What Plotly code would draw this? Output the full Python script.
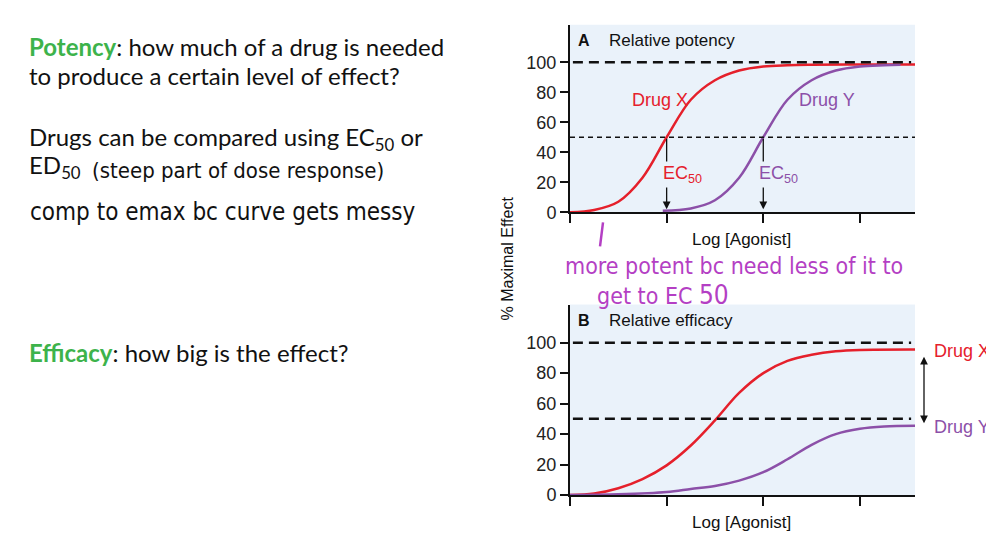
import plotly.graph_objects as go

W, H = 994, 549
OFFX = 8
SY, OFFY = 0.979, 8.3  # calibration of page -> screenshot
def px(x): return (x - OFFX) / W
def py(y): return 1 - ((y - OFFY) / SY) / H

# ---- data ----
log_dose_x_a = [0, 0.25, 0.5, 0.75, 1.0, 1.25, 1.5, 1.75, 2.0, 2.25, 2.5, 3.0, 3.57]
effect_x_a   = [0, 1.5, 7, 23, 50, 75, 88, 94.5, 97.2, 98, 98.3, 98.5, 98.5]
log_dose_y_a = [0.96, 1.25, 1.5, 1.75, 2.0, 2.25, 2.5, 2.75, 3.0, 3.25, 3.42]
effect_y_a   = [1, 2.5, 8, 23, 50, 75, 88, 94.5, 97.2, 98, 98.3]

log_dose_x_b = [0, 0.25, 0.5, 0.75, 1.0, 1.25, 1.5, 1.75, 2.0, 2.25, 2.5, 2.75, 3.0, 3.57]
effect_x_b   = [0, 1, 4.5, 10.5, 19.5, 32.5, 49, 67, 80, 88, 92, 94.3, 95.2, 95.5]
log_dose_y_b = [0, 0.5, 1.0, 1.25, 1.5, 1.75, 2.0, 2.25, 2.5, 2.75, 3.0, 3.25, 3.57]
effect_y_b   = [0, 0.5, 2, 4, 6, 9.5, 15, 23.5, 33, 40, 43.5, 45, 45.5]

ec50_x = 1.0
ec50_y = 2.0
y_ticks = [0, 20, 40, 60, 80, 100]
x_ticks = [0, 1, 2, 3]

RED = "#E5202B"
PURPLE = "#8C50A8"
MAG = "#B43FC4"
GREEN = "#3DB34B"
BG = "#EAF2FA"
AX_FONT = "Liberation Sans, Arial, sans-serif"
TXT_FONT = "Lato, Open Sans, sans-serif"

fig = go.Figure()
fig.add_trace(go.Scatter(x=log_dose_x_a, y=effect_x_a, mode="lines", line=dict(color=RED, width=2.5, shape="spline"), xaxis="x", yaxis="y", hoverinfo="skip"))
fig.add_trace(go.Scatter(x=log_dose_y_a, y=effect_y_a, mode="lines", line=dict(color=PURPLE, width=2.5, shape="spline"), xaxis="x", yaxis="y", hoverinfo="skip"))
fig.add_trace(go.Scatter(x=log_dose_x_b, y=effect_x_b, mode="lines", line=dict(color=RED, width=2.5, shape="spline"), xaxis="x2", yaxis="y2", hoverinfo="skip"))
fig.add_trace(go.Scatter(x=log_dose_y_b, y=effect_y_b, mode="lines", line=dict(color=PURPLE, width=2.5, shape="spline"), xaxis="x2", yaxis="y2", hoverinfo="skip"))

xcommon = dict(range=[0, 3.57], tickvals=x_ticks, showticklabels=False, ticks="outside",
               ticklen=9, tickwidth=1.5, tickcolor="#111", showline=True, linewidth=2,
               linecolor="#111", showgrid=False, zeroline=False, fixedrange=True)
ycommon = dict(range=[0, 125], tickvals=y_ticks, ticks="outside", ticklen=8, tickwidth=1.5,
               tickcolor="#111", showline=True, linewidth=2, linecolor="#111", showgrid=False,
               zeroline=False, tickfont=dict(family=AX_FONT, size=18, color="#222"), fixedrange=True)

fig.update_layout(
    width=W, height=H, margin=dict(l=0, r=0, t=0, b=0),
    paper_bgcolor="white", plot_bgcolor=BG, showlegend=False,
    xaxis=dict(domain=[px(570), px(915)], anchor="y", **xcommon),
    yaxis=dict(domain=[py(212), py(25)], anchor="x", **ycommon),
    xaxis2=dict(domain=[px(570), px(915)], anchor="y2", **xcommon),
    yaxis2=dict(domain=[py(494), py(304)], anchor="x2", **ycommon),
)

shapes = []
for xr, yr, lvl, w, d, x0, x1 in [("x", "y", 100, 2.5, "10px,6px", 0.03, 3.53),
                                  ("x", "y", 50, 1.3, "5px,4px", 0.0, 3.57),
                                  ("x2", "y2", 100, 2.5, "10px,6px", 0.03, 3.53),
                                  ("x2", "y2", 50, 2.5, "10px,6px", 0.03, 3.53)]:
    shapes.append(dict(type="line", xref=xr, yref=yr, x0=x0, x1=x1, y0=lvl, y1=lvl,
                       line=dict(color="#111", width=w, dash=d)))
# handwritten tick stroke
shapes.append(dict(type="line", xref="paper", yref="paper", x0=px(603), y0=py(222), x1=px(600), y1=py(246),
                   line=dict(color=MAG, width=2.5)))
fig.update_layout(shapes=shapes)

ann = []
def T(x, y, text, size=17, color="#111", family=AX_FONT, xanchor="left", yanchor="middle", **kw):
    ann.append(dict(x=px(x), y=py(y), xref="paper", yref="paper", text=text, showarrow=False,
                    xanchor=xanchor, yanchor=yanchor, font=dict(size=size, color=color, family=family), **kw))

# panel titles
T(576, 41, "<b>A</b>", size=16)
T(607, 41, "Relative potency", size=17)
T(576, 320, "<b>B</b>", size=16)
T(607, 320, "Relative efficacy", size=17)
# axis titles
T(741, 239, "Log [Agonist]", xanchor="center")
T(741, 521, "Log [Agonist]", xanchor="center")
ann.append(dict(x=px(507), y=py(258), xref="paper", yref="paper", text="% Maximal Effect", showarrow=False,
                textangle=-90, xanchor="center", yanchor="middle", font=dict(size=16, color="#111", family=AX_FONT)))
# panel A labels
T(660, 100, "Drug X", color=RED, size=18, xanchor="center")
T(827, 100, "Drug Y", color=PURPLE, size=18, xanchor="center")
# EC50 arrows
for xv in [ec50_x, ec50_y]:
    ann.append(dict(x=xv, y=2, xref="x", yref="y", ax=xv, ay=50, axref="x", ayref="y", text="",
                    showarrow=True, arrowhead=2, arrowsize=1.2, arrowwidth=1.3, arrowcolor="#111"))
ann.append(dict(x=0.94, y=25, xref="x", yref="y", text="EC<sub>50</sub>", showarrow=False, xanchor="left",
                bgcolor=BG, font=dict(size=18, color=RED, family=AX_FONT)))
ann.append(dict(x=1.94, y=25, xref="x", yref="y", text="EC<sub>50</sub>", showarrow=False, xanchor="left",
                bgcolor=BG, font=dict(size=18, color=PURPLE, family=AX_FONT)))
# panel B labels and double arrow
T(932, 350, "Drug X", color=RED, size=18)
T(932, 426, "Drug Y", color=PURPLE, size=18)
ann.append(dict(x=px(924), y=py(356), xref="paper", yref="paper", ax=0, ay=68, text="", showarrow=True,
                arrowhead=2, arrowside="end+start", arrowsize=1.2, arrowwidth=1.3, arrowcolor="#111"))

# left text
T(27, 47, f"<b><span style='color:{GREEN}'>Potency</span></b>: how much of a drug is needed", size=24, family=TXT_FONT)
T(27, 76, "to produce a certain level of effect?", size=24, family=TXT_FONT)
T(27, 138, "Drugs can be compared using EC<sub>50</sub> or", size=24, family=TXT_FONT)
T(27, 166, "ED<sub>50</sub>", size=24, family=TXT_FONT)
HAND = "Liberation Sans Narrow, DejaVu Sans Condensed, Roboto, sans-serif"
T(90, 170, "(steep part of dose response)", size=22, family=HAND)
T(28, 212, "comp to emax bc curve gets messy", size=24, family=HAND)
T(27, 352, f"<b><span style='color:{GREEN}'>Efficacy</span></b>: how big is the effect?", size=24, family=TXT_FONT)
# magenta handwriting
T(563, 266, "more potent bc need less of it to", size=23, color=MAG, family=HAND)
T(595, 294, "get to EC <span style='font-size:26px'>50</span>", size=23, color=MAG, family=HAND)

fig.update_layout(annotations=ann)
fig.write_html("out.html")
